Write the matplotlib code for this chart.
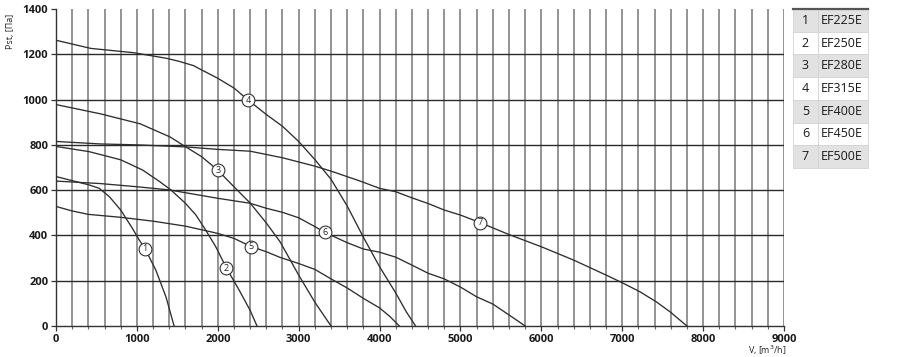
import matplotlib.pyplot as plt
import matplotlib as mpl
import numpy as np

plt.rcParams['font.family'] = ['Open Sans', 'DejaVu Sans']

# fan curves: V [m3/h] vs Pst [Pa]
ef225_x = [0, 410, 535, 660, 800, 945, 1030, 1100, 1235, 1360, 1460]
ef225_y = [660, 623, 608, 571, 512, 431, 379, 342, 246, 128, 0]

ef250_x = [0, 410, 800, 1070, 1280, 1420, 1600, 1730, 1850, 1975, 2110, 2265, 2400, 2485]
ef250_y = [793, 770, 734, 689, 638, 601, 542, 490, 424, 350, 254, 158, 69, 0]

ef280_x = [0, 550, 1040, 1410, 1600, 1800, 2000, 2200, 2400, 2600, 2770, 3000, 3200, 3400]
ef280_y = [978, 937, 893, 835, 792, 748, 688, 615, 543, 455, 372, 225, 105, 0]

ef315_x = [0, 430, 960, 1370, 1530, 1700, 1800, 2000, 2200, 2375, 2600, 2800, 3000,
           3200, 3400, 3600, 3800, 4000, 4200, 4330, 4445]
ef315_y = [1262, 1226, 1207, 1182, 1168, 1150, 1131, 1094, 1051, 998, 934, 882, 815,
           735, 648, 530, 392, 262, 146, 63, 0]

ef400_x = [0, 200, 400, 800, 1200, 1600, 2000, 2200, 2410, 2600, 2770, 3000, 3200,
           3400, 3600, 3800, 4000, 4130, 4245]
ef400_y = [528, 508, 493, 480, 463, 441, 409, 387, 351, 328, 303, 276, 250,
           208, 168, 122, 80, 41, 0]

ef450_x = [0, 550, 1000, 1400, 2000, 2400, 2600, 2800, 3000, 3200, 3325, 3600, 3800,
           4000, 4200, 4400, 4600, 4800, 5000, 5200, 5400, 5600, 5800]
ef450_y = [640, 629, 615, 601, 564, 542, 520, 502, 478, 439, 413, 368, 340,
           326, 304, 269, 233, 208, 172, 129, 97, 49, 0]

ef500_x = [0, 550, 1000, 1600, 2000, 2400, 2800, 3200, 3400, 3760, 4000, 4200, 4400,
           4600, 4800, 5000, 5240, 5600, 6000, 6400, 6800, 7000, 7220, 7420, 7590, 7800]
ef500_y = [815, 804, 800, 791, 780, 772, 743, 706, 684, 640, 608, 593, 566,
           541, 512, 490, 457, 404, 350, 291, 225, 191, 151, 107, 63, 0]

models = ['EF225E', 'EF250E', 'EF280E', 'EF315E', 'EF400E', 'EF450E', 'EF500E']
curves_x = [ef225_x, ef250_x, ef280_x, ef315_x, ef400_x, ef450_x, ef500_x]
curves_y = [ef225_y, ef250_y, ef280_y, ef315_y, ef400_y, ef450_y, ef500_y]

# where the numbered circles sit on each curve
label_x = [1099, 2107, 2000, 2375, 2411, 3325, 5239]
label_y = [342, 254, 688, 998, 350, 413, 457]


def main():
    fig = plt.figure(figsize=(9, 3.57), dpi=100)
    ax = fig.add_axes([56 / 900, 1 - 326 / 357, 728 / 900, 317 / 357])

    ax.set_xlim(0, 9000)
    ax.set_ylim(0, 1400)

    # grid: fine vertical lines every 200, horizontal every 200 (none on top edge)
    for gx in np.arange(200, 9001, 200):
        ax.axvline(gx, color='#767676', lw=1.1, zorder=1)
    for gy in np.arange(200, 1201, 200):
        ax.axhline(gy, color='#2a2a2a', lw=1.0, zorder=2)

    for i in range(len(models)):
        ax.plot(curves_x[i], curves_y[i], color='#2e2e2e', lw=0.95, zorder=3)
        ax.plot(label_x[i], label_y[i], 'o', ms=9.2, mfc='white', mec='#333333',
                mew=0.8, zorder=4)
        ax.text(label_x[i], label_y[i], str(i + 1), fontsize=6.5, ha='center',
                va='center', zorder=5, color='#222222')

    for s in ['top', 'right']:
        ax.spines[s].set_visible(False)
    for s in ['left', 'bottom']:
        ax.spines[s].set_color('#333333')
        ax.spines[s].set_linewidth(1.0)

    ax.set_xticks(np.arange(0, 9001, 1000))
    ax.set_xticks(np.arange(0, 9001, 200), minor=True)
    ax.set_yticks(np.arange(0, 1401, 200))
    ax.tick_params(axis='both', which='major', direction='out', length=3.5,
                   width=0.9, labelsize=8, color='#333333', pad=2)
    ax.tick_params(axis='x', which='minor', direction='out', length=2, width=0.8,
                   color='#666666')
    for lab in ax.get_xticklabels() + ax.get_yticklabels():
        lab.set_fontweight('bold')
        lab.set_color('#1a1a1a')

    fig.text(10 / 900, 1 - 31 / 357, 'Pst, [Па]', rotation=90, ha='center',
             va='center', fontsize=6.5, color='#222222')
    fig.text(787 / 900, 1 - 350 / 357, 'V, [m$^3$/h]', ha='right', va='center',
             fontsize=6.5, color='#222222')

    # legend table on the right
    tax = fig.add_axes([793 / 900, 1 - 168 / 357, 75 / 900, 159 / 357])
    tax.axis('off')
    cell_text = [[str(i + 1), m] for i, m in enumerate(models)]
    cell_col = [['#e2e2e2', '#e2e2e2'] if i % 2 == 0 else ['white', 'white']
                for i in range(len(models))]
    tbl = tax.table(cellText=cell_text, cellColours=cell_col, cellLoc='left',
                    colWidths=[25 / 75, 50 / 75], bbox=[0, 0, 1, 1])
    tbl.auto_set_font_size(False)
    for (r, c), cell in tbl.get_celld().items():
        cell.set_edgecolor('#d4d4d4')
        cell.set_linewidth(0.6)
        cell.get_text().set_fontsize(9)
        cell.get_text().set_color('#1a1a1a')
        if c == 0:
            cell._loc = 'center'
            cell.get_text().set_ha('center')
        else:
            cell.PAD = 0.05
    tax.plot([0, 1], [1, 1], color='#555555', lw=1.6, transform=tax.transAxes,
             clip_on=False)

    plt.savefig('out.png', dpi=100)


if __name__ == '__main__':
    main()
